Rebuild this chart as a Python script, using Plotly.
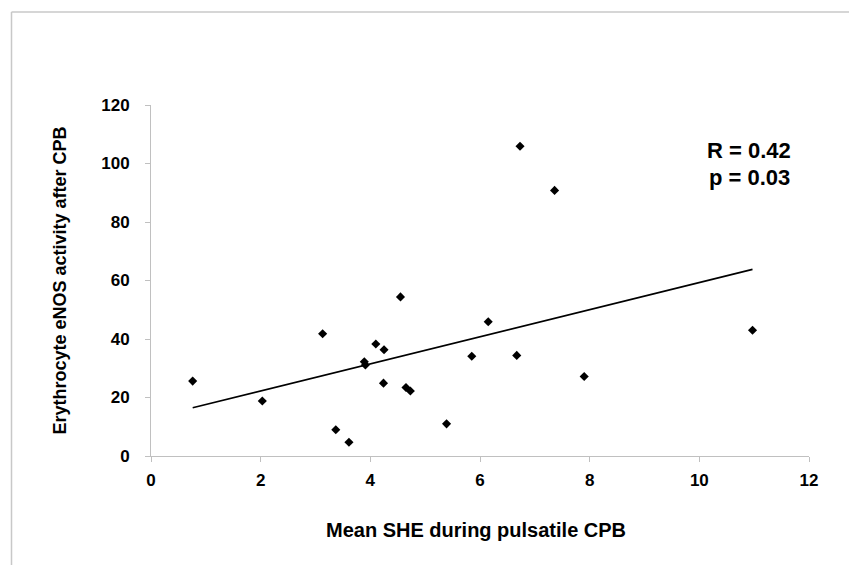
import plotly.graph_objects as go

# Data
she = [0.76, 2.03, 3.13, 3.37, 3.61, 3.89, 3.91, 4.10, 4.25, 4.24, 4.55,
       4.65, 4.73, 5.39, 5.85, 6.15, 6.73, 7.36, 6.67, 7.90, 10.97]
enos = [25.6, 18.8, 41.8, 9.0, 4.7, 32.2, 31.1, 38.3, 36.3, 24.9, 54.4,
        23.4, 22.2, 11.0, 34.1, 45.9, 105.9, 90.8, 34.4, 27.2, 43.0]
trend_x = [0.76, 10.97]
trend_y = [16.5, 63.8]
x_ticks = [0, 2, 4, 6, 8, 10, 12]
y_ticks = [0, 20, 40, 60, 80, 100, 120]
stats_text = ["R = 0.42", "p = 0.03"]
x_title = "Mean SHE during pulsatile CPB"
y_title = "Erythrocyte eNOS activity after CPB"

FONT = "Liberation Sans, Arial, sans-serif"
OFF = 8  # page body margin
PAGE_W, PAGE_H = 857, 565
W, H = PAGE_W - OFF, PAGE_H - OFF
# desired page-pixel plot edges
PL, PR, PT, PB = 151, 809, 105, 456
L, T = PL - OFF, PT - OFF
R, B = W - (PR - OFF), H - (PB - OFF)
PW, PH = W - L - R, H - T - B

fig = go.Figure()
fig.add_trace(go.Scatter(x=trend_x, y=trend_y, mode="lines",
                         line=dict(color="black", width=1.6),
                         hoverinfo="skip", showlegend=False))
fig.add_trace(go.Scatter(x=she, y=enos, mode="markers",
                         marker=dict(symbol="diamond", size=7, color="black"),
                         showlegend=False))

axis_common = dict(showgrid=False, zeroline=False, showline=True,
                   linecolor="#c0c0c0", linewidth=1, ticks="outside",
                   ticklen=5, tickcolor="#c0c0c0", tickwidth=1,
                   tickfont=dict(family=FONT, size=17, color="black"))

fig.update_xaxes(range=[0, 12], tickvals=x_ticks,
                 ticktext=["<b>%d</b>" % v for v in x_ticks],
                 ticklabelstandoff=4, **axis_common)
fig.update_yaxes(range=[0, 120], tickvals=y_ticks,
                 ticktext=["<b>%d</b>" % v for v in y_ticks],
                 ticklabelstandoff=12, **axis_common)

def py(p):
    return (PB - p) / PH

def px(p):
    return (p - PL) / PW

annotations = [
    dict(text="<b>%s</b>" % x_title, x=px(475.5), y=py(530), xref="paper",
         yref="paper", showarrow=False, xanchor="center", yanchor="middle",
         font=dict(family=FONT, size=20, color="black")),
    dict(text="<b>%s</b>" % y_title, x=px(59), y=py(280.5), xref="paper",
         yref="paper", showarrow=False, xanchor="center", yanchor="middle",
         textangle=-90, font=dict(family=FONT, size=18, color="black")),
    dict(text="<b>%s</b>" % stats_text[0], x=px(749), y=py(150),
         xref="paper", yref="paper", showarrow=False, xanchor="center",
         yanchor="middle", font=dict(family=FONT, size=22, color="black")),
    dict(text="<b>%s</b>" % stats_text[1], x=px(749), y=py(177),
         xref="paper", yref="paper", showarrow=False, xanchor="center",
         yanchor="middle", font=dict(family=FONT, size=22, color="black")),
]

shapes = [
    dict(type="line", xref="paper", yref="paper", x0=px(11.5),
         x1=px(PAGE_W + 5), y0=py(12), y1=py(12),
         line=dict(color="#c8c8c8", width=1.5)),
    dict(type="line", xref="paper", yref="paper", x0=px(11.5), x1=px(11.5),
         y0=py(12), y1=py(PAGE_H + 5),
         line=dict(color="#c8c8c8", width=1.5)),
]

fig.update_layout(width=W, height=H, margin=dict(l=L, r=R, t=T, b=B),
                  plot_bgcolor="white", paper_bgcolor="white",
                  annotations=annotations, shapes=shapes, showlegend=False)

fig.write_html("out.html")
